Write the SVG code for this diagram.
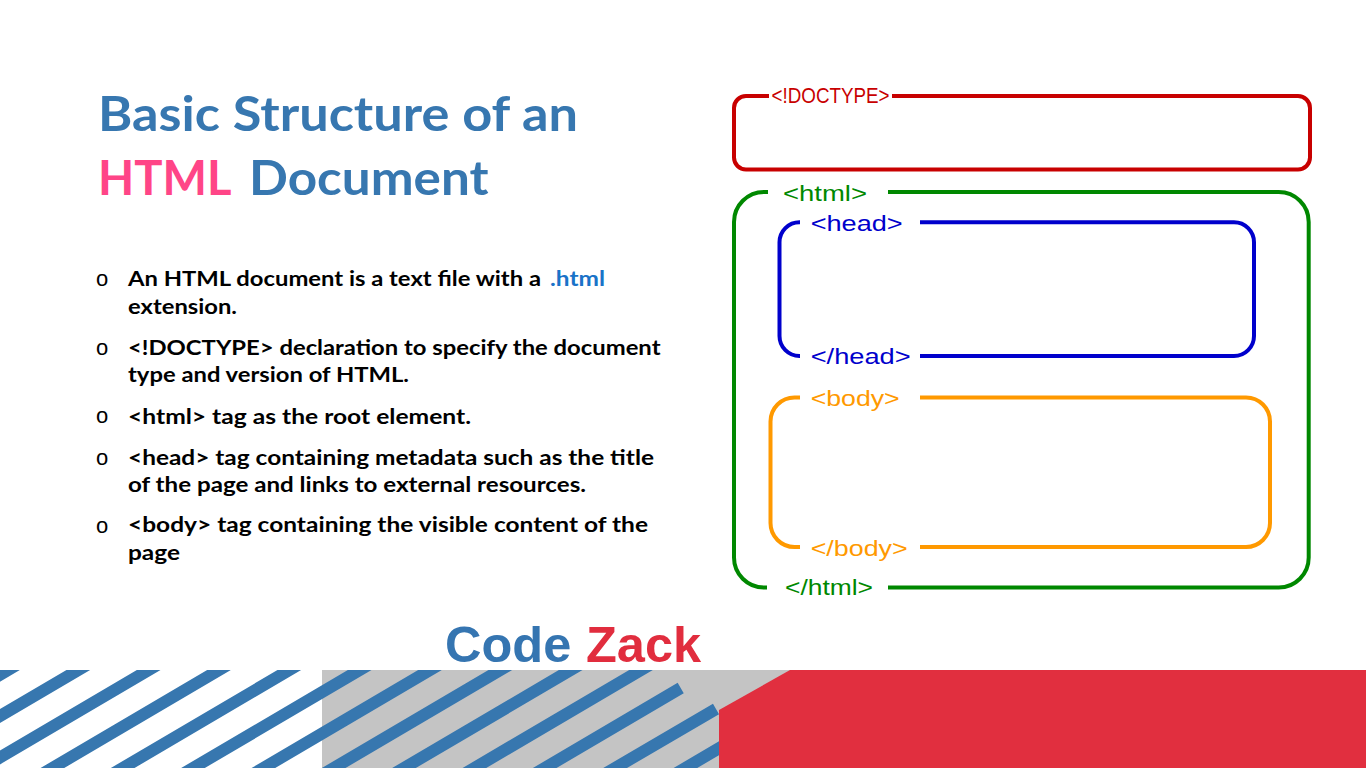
<svg xmlns="http://www.w3.org/2000/svg" width="1366" height="768" viewBox="0 0 1366 768">
  <style>
    .title { font-family: Lato, "Open Sans", sans-serif; font-weight: 700; font-size: 48px; }
    .blue { fill: #3777B0; }
    .pink { fill: #FF4587; }
    .bullet { font-family: "Liberation Sans", Arial, sans-serif; font-size: 22px; fill: #000; }
    .item { font-family: Lato, "Open Sans", sans-serif; font-weight: 700; font-size: 20px; fill: #000; }
    .ext { font-family: Lato, "Open Sans", sans-serif; font-weight: 700; font-size: 20px; fill: #1A73C8; }
    .brand { font-family: "Liberation Sans", Arial, sans-serif; font-weight: 700; font-size: 50.5px; }
    .box { fill: none; stroke-width: 4; stroke-linecap: butt; }
    .tag { font-family: "Liberation Sans", Arial, sans-serif; font-size: 22px; }
    .stripe { stroke: #3777AF; stroke-width: 12; stroke-linecap: butt; fill: none; }
  </style>
  <defs>
    <clipPath id="band">
      <rect x="0" y="670" width="1366" height="98"/>
    </clipPath>
  </defs>

  <rect x="0" y="0" width="1366" height="768" fill="#FFFFFF"/>

  <!-- heading -->
  <g id="heading">
    <text class="title blue" x="98" y="131" textLength="480" lengthAdjust="spacingAndGlyphs">Basic Structure of an</text>
    <text class="title pink" x="98" y="195" textLength="133.5" lengthAdjust="spacingAndGlyphs">HTML</text>
    <text class="title blue" x="249" y="195" textLength="239.5" lengthAdjust="spacingAndGlyphs">Document</text>
  </g>

  <!-- bullet list -->
  <g id="bullets">
    <text class="bullet" x="96" y="286">o</text>
    <text class="bullet" x="96" y="355">o</text>
    <text class="bullet" x="96" y="423">o</text>
    <text class="bullet" x="96" y="465">o</text>
    <text class="bullet" x="96" y="533">o</text>

    <text class="item" x="128" y="286" textLength="413" lengthAdjust="spacingAndGlyphs">An HTML document is a text file with a</text>
    <text class="ext" x="550" y="286" textLength="55" lengthAdjust="spacingAndGlyphs">.html</text>
    <text class="item" x="128" y="313.5" textLength="109" lengthAdjust="spacingAndGlyphs">extension.</text>

    <text class="item" x="128" y="355" textLength="532.5" lengthAdjust="spacingAndGlyphs">&lt;!DOCTYPE&gt; declaration to specify the document</text>
    <text class="item" x="128" y="382" textLength="281" lengthAdjust="spacingAndGlyphs">type and version of HTML.</text>

    <text class="item" x="128" y="423.5" textLength="343" lengthAdjust="spacingAndGlyphs">&lt;html&gt; tag as the root element.</text>

    <text class="item" x="128" y="464.5" textLength="526" lengthAdjust="spacingAndGlyphs">&lt;head&gt; tag containing metadata such as the title</text>
    <text class="item" x="128" y="491.5" textLength="458" lengthAdjust="spacingAndGlyphs">of the page and links to external resources.</text>

    <text class="item" x="128" y="532" textLength="520" lengthAdjust="spacingAndGlyphs">&lt;body&gt; tag containing the visible content of the</text>
    <text class="item" x="128" y="559.5" textLength="52" lengthAdjust="spacingAndGlyphs">page</text>
  </g>

  <!-- document structure boxes -->
  <g id="doctype">
    <path class="box" stroke="#C80000" d="M892,96 H1298 A12,12 0 0 1 1310,108 V157.5 A12,12 0 0 1 1298,169.5 H746 A12,12 0 0 1 734,157.5 V108 A12,12 0 0 1 746,96 H769"/>
    <text class="tag" x="771.5" y="102.5" fill="#C80000" font-size="18.5" textLength="118" lengthAdjust="spacingAndGlyphs">&lt;!DOCTYPE&gt;</text>
  </g>

  <g id="html">
    <path class="box" stroke="#008800" d="M888,192 H1278.7 A30,30 0 0 1 1308.7,222 V557.5 A30,30 0 0 1 1278.7,587.5 H888"/>
    <path class="box" stroke="#008800" d="M767,587.5 H764 A30,30 0 0 1 734,557.5 V222 A30,30 0 0 1 764,192 H768"/>
    <text class="tag" x="783" y="200.5" fill="#008800" textLength="84" lengthAdjust="spacingAndGlyphs">&lt;html&gt;</text>
    <text class="tag" x="785" y="595" fill="#008800" textLength="88" lengthAdjust="spacingAndGlyphs">&lt;/html&gt;</text>
  </g>

  <g id="head">
    <path class="box" stroke="#0000CC" d="M920,222.3 H1234 A20,20 0 0 1 1254,242.3 V336 A20,20 0 0 1 1234,356 H920"/>
    <path class="box" stroke="#0000CC" d="M800,356 H799.5 A20,20 0 0 1 779.5,336 V242.3 A20,20 0 0 1 799.5,222.3 H800"/>
    <text class="tag" x="810.7" y="230.7" fill="#0000CC" textLength="92" lengthAdjust="spacingAndGlyphs">&lt;head&gt;</text>
    <text class="tag" x="810.7" y="364" fill="#0000CC" textLength="100" lengthAdjust="spacingAndGlyphs">&lt;/head&gt;</text>
  </g>

  <g id="body">
    <path class="box" stroke="#FF9900" d="M920,397.5 H1246 A24,24 0 0 1 1270,421.5 V523 A24,24 0 0 1 1246,547 H920"/>
    <path class="box" stroke="#FF9900" d="M800,547 H794.5 A24,24 0 0 1 770.5,523 V421.5 A24,24 0 0 1 794.5,397.5 H800"/>
    <text class="tag" x="810.7" y="406" fill="#FF9900" textLength="89" lengthAdjust="spacingAndGlyphs">&lt;body&gt;</text>
    <text class="tag" x="810.7" y="556" fill="#FF9900" textLength="97" lengthAdjust="spacingAndGlyphs">&lt;/body&gt;</text>
  </g>

  <g id="connectors"></g>

  <!-- brand -->
  <g id="brand">
    <text class="brand" x="445" y="662" fill="#3575B1">Code</text>
    <text class="brand" x="586" y="662" fill="#E12D3E">Zack</text>
  </g>

  <!-- footer band -->
  <g id="footer">
    <rect x="322" y="670" width="1044" height="98" fill="#C4C4C4"/>
    <g clip-path="url(#band)">
      <path class="stripe" d="M25,660 L-175.6,778 M95.3,660 L-105.3,778 M165.7,660 L-35,778 M236,660 L35.4,778 M306.3,660 L105.7,778 M376.7,660 L176,778 M447,660 L246.4,778 M517.3,660 L316.7,778 M587.7,660 L387,778 M658,660 L457.4,778 M680.7,688 L527.7,778 M716,709 L598,778 M869,660 L668.4,778"/>
    </g>
    <polygon points="790,670 1366,670 1366,768 719,768 719,710" fill="#E12F3F"/>
  </g>
</svg>
